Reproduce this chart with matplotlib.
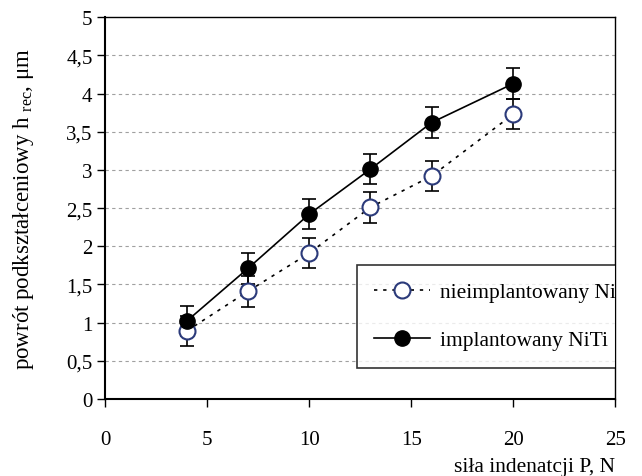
import matplotlib
matplotlib.use("Agg")
import matplotlib.pyplot as plt

plt.rcParams['font.family'] = ['Liberation Serif', 'DejaVu Serif']
plt.rcParams['mathtext.fontset'] = 'custom'
plt.rcParams['mathtext.rm'] = 'Liberation Serif'
plt.rcParams['mathtext.it'] = 'Liberation Serif:italic'

force = [4, 7, 10, 13, 16, 20]
nieimpl = [0.89, 1.41, 1.91, 2.51, 2.92, 3.73]
nieimpl_err = [0.2, 0.2, 0.2, 0.2, 0.2, 0.2]
impl = [1.02, 1.71, 2.42, 3.01, 3.62, 4.13]
impl_err = [0.2, 0.2, 0.2, 0.2, 0.2, 0.2]
xticks = [0, 5, 10, 15, 20, 25]
yticks = [0, 0.5, 1, 1.5, 2, 2.5, 3, 3.5, 4, 4.5, 5]
ytick_labels = ['0', '0,5', '1', '1,5', '2', '2,5', '3', '3,5', '4', '4,5', '5']
labels = ['nieimplantowany NiTi', 'implantowany NiTi']

fig = plt.figure(figsize=(6.42, 4.77), dpi=100)
ax = fig.add_axes([0.1636, 0.1614, 0.795, 0.8006])

for y in yticks[1:-1]:
    ax.axhline(y, color='#a0a0a0', lw=0.8, ls=(0, (3, 3)), zorder=0)

ax.errorbar(force, nieimpl, yerr=nieimpl_err, fmt='none', ecolor='black',
            elinewidth=1.2, capsize=4.7, capthick=1.2, zorder=2)
ax.errorbar(force, impl, yerr=impl_err, fmt='none', ecolor='black',
            elinewidth=1.2, capsize=4.7, capthick=1.2, zorder=2)
l1, = ax.plot(force, nieimpl, ls=(0, (2, 3.5)), color='black', lw=1.2,
              marker='o', ms=11.5, mfc='white', mec='#2b3a7a', mew=1.5,
              label=labels[0], zorder=3)
l2, = ax.plot(force, impl, ls='-', color='black', lw=1.2,
              marker='o', ms=11, mfc='black', mec='black',
              label=labels[1], zorder=4)

ax.set_xlim(0, 25)
ax.set_ylim(0, 5)
ax.set_xticks(xticks)
ax.set_xticklabels([str(v) for v in xticks])
ax.set_yticks(yticks)
ax.set_yticklabels(ytick_labels)
ax.tick_params(direction='out', length=6, width=1, labelsize=15, pad=3)
ax.tick_params(axis='x', pad=16)
for s in ax.spines.values():
    s.set_color('black')
    s.set_linewidth(1.0)
ax.spines['left'].set_linewidth(1.5)
ax.spines['bottom'].set_linewidth(1.5)

ax.set_ylabel('powrót podkształceniowy h $_{\\mathrm{rec}}$, μm', fontsize=16.5, labelpad=22)
ax.set_xlabel('siła indenatcji P, N', fontsize=15.5, labelpad=6, loc='right')

leg = ax.legend(handles=[l1, l2], loc='upper left', bbox_to_anchor=(0.494, 0.351),
                frameon=True, fancybox=False, edgecolor='black', fontsize=15.5,
                borderpad=0.8, labelspacing=1.3, handlelength=2.6,
                handletextpad=0.45, borderaxespad=0)
leg.get_frame().set_linewidth(1.2)
leg.set_zorder(5)
for art in [leg.get_frame()] + leg.get_texts():
    art.set_clip_path(ax.patch)

fig.savefig('out.png', dpi=100)
